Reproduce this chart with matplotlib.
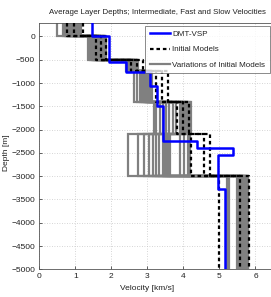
import matplotlib
matplotlib.use("Agg")
import matplotlib.pyplot as plt
import numpy as np

plt.rcParams['font.family'] = ['Liberation Sans', 'DejaVu Sans']

# ---------------- data ----------------
# average layer boundaries (top -> bottom), metres
layer_depths = [300, 0, -500, -750, -1400, -2100, -3000, -5000]

# initial models (slow, intermediate, fast) velocities per layer, km/s
init_slow = [0.78, 1.57, 2.55, 3.25, 3.82, 4.21, 5.00]
init_mid = [0.95, 1.72, 2.70, 3.40, 4.00, 4.56, 5.56]
init_fast = [1.20, 1.86, 2.87, 3.57, 4.15, 4.75, 5.82]

# variations of initial models: velocities per layer (one list per layer)
var_L1 = [0.50, 0.66, 0.71, 0.74, 0.77, 0.80, 0.84, 0.87, 0.90, 0.93, 0.97, 1.01, 1.04, 1.08, 1.12, 1.17]
var_L2 = [1.36, 1.42, 1.46, 1.49, 1.52, 1.55, 1.58, 1.61, 1.63, 1.66, 1.69, 1.71, 1.74, 1.77, 1.80, 1.84]
var_L3 = [2.41, 2.45, 2.47, 2.49, 2.52, 2.54, 2.56, 2.58, 2.60, 2.62, 2.64, 2.66, 2.68, 2.70, 2.72, 2.75]
var_L4 = [2.62, 2.70, 2.80, 2.86, 2.90, 2.93, 2.95, 2.97, 2.99, 3.01, 3.03, 3.05, 3.07, 3.08, 3.10, 3.12]
var_L5 = [3.17, 3.25, 3.34, 3.43, 3.52, 3.61, 3.70, 3.80, 3.90, 3.95, 4.00, 4.05, 4.09, 4.13, 4.17, 4.22]
var_L6 = [2.47, 2.75, 2.91, 3.05, 3.16, 3.24, 3.33, 3.42, 3.47, 3.52, 3.57, 3.62, 3.91, 4.02, 4.12, 4.19]
var_L7 = [5.20, 5.23, 5.26, 5.50, 5.53, 5.56, 5.59, 5.62, 5.65, 5.68, 5.70, 5.72, 5.74, 5.76, 5.78, 5.80]

# DMT-VSP profile
vsp_depths = [300, 0, -540, -770, -1060, -1500, -2235, -2400, -2550, -3270, -5000]
vsp_vel = [1.45, 1.93, 2.40, 3.08, 3.26, 3.43, 4.37, 5.39, 4.97, 5.16]

title = "Average Layer Depths; Intermediate, Fast and Slow Velocities"
xlabel = "Velocity [km/s]"
ylabel = "Depth [m]"
legend_labels = ["DMT-VSP", "Initial Models", "Variations of Initial Models"]


def step_xy(depths, vels):
    xs, ys = [], []
    for i, v in enumerate(vels):
        xs += [v, v]
        ys += [depths[i], depths[i + 1]]
    return xs, ys


# ---------------- figure ----------------
W, H = 271, 297
fig = plt.figure(figsize=(W / 100, H / 100), dpi=100)
ax_l, ax_r = 39.3 / W, 291.5 / W
ax_b, ax_t = 1 - 269.3 / H, 1 - 22.5 / H
ax = fig.add_axes([ax_l, ax_b, ax_r - ax_l, ax_t - ax_b])

gray_layers = [var_L1, var_L2, var_L3, var_L4, var_L5, var_L6, var_L7]
n_var = len(var_L1)
gh = None
for k in range(n_var):
    vels = [sorted(L)[k] for L in gray_layers]
    xs, ys = step_xy(layer_depths, vels)
    gh, = ax.plot(xs, ys, color='#808080', lw=1.6, solid_joinstyle='miter', zorder=2)

bh = None
for vels in (init_slow, init_mid, init_fast):
    xs, ys = step_xy(layer_depths, vels)
    bh, = ax.plot(xs, ys, color='black', lw=1.6, linestyle=(0, (1.6, 1.3)), zorder=3)

xs, ys = step_xy(vsp_depths, vsp_vel)
vh, = ax.plot(xs, ys, color='#0000ff', lw=1.8, zorder=4)

ax.set_xlim(0, 7)
ax.set_ylim(-5000, 300)
ax.set_xticks(np.arange(0, 7, 1))
ax.set_yticks(np.arange(-5000, 1, 500))
ax.grid(True, linestyle=(0, (1, 2)), color='#c8c8c8', lw=0.6)
ax.set_axisbelow(True)
ax.tick_params(direction='in', length=2, width=0.5, labelsize=6.0, colors='#222222', pad=3)
for s in ax.spines.values():
    s.set_color('#555555')
    s.set_linewidth(0.6)

fig.text(157 / W, 1 - 12 / H, title, fontsize=5.7, color='#222222', ha='center', va='center')
ax.set_xlabel(xlabel, fontsize=6.0, color='#222222')
ax.xaxis.set_label_coords(147 / W, 1 - 285.5 / H, transform=fig.transFigure)
ax.set_ylabel(ylabel, fontsize=6.0, color='#222222')
ax.yaxis.set_label_coords(10 / W, 1 - 153 / H, transform=fig.transFigure)

leg = fig.legend([vh, bh, gh], legend_labels, loc='upper right',
                 bbox_to_anchor=(269.5 / W, 1 - 26 / H), bbox_transform=fig.transFigure,
                 fontsize=5.8, frameon=True, fancybox=False, handlelength=2.5,
                 handletextpad=0.3, borderpad=0.55, labelspacing=0.95, borderaxespad=0)
leg.get_frame().set_edgecolor('#555555')
leg.get_frame().set_linewidth(0.6)
for t in leg.get_texts():
    t.set_color('#222222')

fig.savefig("out.png", dpi=100)
